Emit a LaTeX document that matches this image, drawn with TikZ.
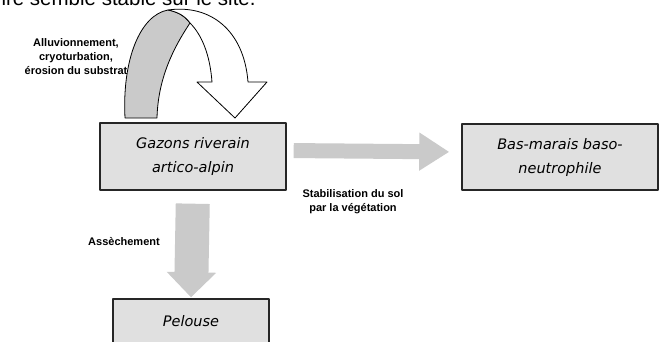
\documentclass[tikz,border=0pt]{standalone}
\usepackage{fontspec}
\setmainfont{Liberation Sans}
\newfontfamily\boxfont{DejaVu Sans}
\usetikzlibrary{arrows.meta}
\definecolor{boxgray}{RGB}{224,224,224}
\definecolor{arrowgray}{RGB}{202,202,202}
\tikzset{
  stage/.style={draw=black!85,line width=1.4pt,fill=boxgray,align=center,
    font=\boxfont\itshape\fontsize{14.5}{24}\selectfont},
  process/.style={align=center,font=\bfseries\fontsize{11}{14}\selectfont},
}
\begin{document}
\begin{tikzpicture}[x=1pt,y=-1pt,line join=round]
\clip (0,0) rectangle (659,341);
\node[anchor=base west,font=\fontsize{20.5}{22}\selectfont] (title) at (-2,5) {ire semble stable sur le site.};
% stades
\node[stage,minimum width=186,minimum height=67] (gaz) at (193,156.5) {Gazons riverain\\artico-alpin};
\node[stage,minimum width=196,minimum height=66] (bas) at (560,157) {Bas-marais baso-\\neutrophile};
\node[stage,minimum width=156,minimum height=44] (pel) at (191,321) {Pelouse};
% fleche courbe
\draw[line width=0.8pt,fill=arrowgray]
    (125,118) .. controls (122,60) and (140,15) .. (168,10)
    .. controls (178,12) and (185,16) .. (190,23)
    .. controls (172,50) and (158,80) .. (157,118) -- cycle;
\draw[line width=0.8pt,fill=white]
    (168,10) .. controls (210,4) and (244,30) .. (248,82) -- (267,82) -- (235,118) -- (197,82) -- (212,82)
    .. controls (210,55) and (202,35) .. (190,23)
    .. controls (185,16) and (178,12) .. (168,10) -- cycle;
% fleches
\coordinate (r1) at ([yshift=6]gaz.east);
\coordinate (r2) at ([yshift=5]bas.west);
\draw[arrowgray,line width=15pt,shorten <=7pt,shorten >=12pt,-{Triangle[width=36pt,length=30pt]}] (r1) -- (r2);
\draw[arrowgray,line width=34pt,shorten <=13pt,shorten >=1pt,-{Triangle[width=48pt,length=25pt]}] (gaz.south) -- (pel.north);
% processus
\node[process] (allu) at (76,57) {Alluvionnement,\\cryoturbation,\\érosion du substrat};
\node[process] (stab) at (353,202) {Stabilisation du sol\\par la végétation};
\node[process] (asse) at (124,242) {Assèchement};
\end{tikzpicture}
\end{document}
